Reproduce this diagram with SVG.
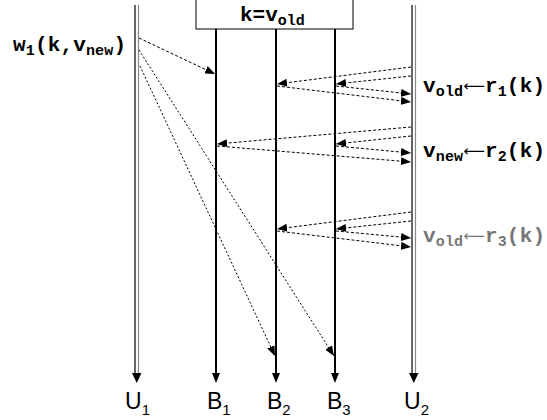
<svg xmlns="http://www.w3.org/2000/svg" width="547" height="420" viewBox="0 0 547 420">
<style>
.mono{font-family:"Liberation Mono","Courier New",monospace;font-weight:bold;font-size:21px;fill:#000}
.sub{font-size:15px}
.arr{font-family:"DejaVu Sans",sans-serif;font-weight:normal;font-size:15px}
.sans{font-family:"Liberation Sans",Arial,Helvetica,sans-serif;font-size:23px;fill:#000}
.sans .s{font-size:15px}
.life{stroke:#000;stroke-width:2;fill:none}
.u1{stroke:#000;stroke-width:1.2;fill:none}
.u2{stroke:#888;stroke-width:1.2;fill:none}
.msg{stroke:#000;stroke-width:1;stroke-dasharray:3 2;fill:none;marker-end:url(#ah)}
.msgf{stroke:#000;stroke-width:1;stroke-dasharray:2 2;fill:none;marker-end:url(#ah)}
.head{fill:#000}
</style>
<defs>
<marker id="ah" markerUnits="userSpaceOnUse" markerWidth="10" markerHeight="8" refX="10" refY="4" orient="auto">
<path d="M0,0 L10,4 L0,8 z" fill="#000"/>
</marker>
</defs>
<rect width="547" height="420" fill="#fff"/>

<g id="U1">
<line class="u1" x1="135" y1="5" x2="135" y2="375"/>
<line class="u2" x1="138.5" y1="5" x2="138.5" y2="375"/>
<path class="head" d="M132,373 L141.5,373 L136.8,383 z"/>
<text class="sans" x="125" y="409">U<tspan class="s" dy="6">1</tspan></text>
<text class="mono" x="13" y="51" textLength="113" lengthAdjust="spacing">w<tspan class="sub" dy="4">1</tspan><tspan dy="-4">(k,v</tspan><tspan class="sub" dy="4">new</tspan><tspan dy="-4">)</tspan></text>
</g>

<g id="store">
<rect x="196" y="-1" width="157" height="30" fill="#fff" stroke="#000" stroke-width="1"/>
<text class="mono" x="240" y="21">k=v<tspan class="sub" dy="4">old</tspan></text>
</g>

<g id="B1">
<line class="life" x1="216" y1="29" x2="216" y2="374"/>
<path class="head" d="M212,373 L220,373 L216,383 z"/>
<text class="sans" x="207" y="409">B<tspan class="s" dy="6">1</tspan></text>
</g>
<g id="B2">
<line class="life" x1="276" y1="29" x2="276" y2="374"/>
<path class="head" d="M272,373 L280,373 L276,383 z"/>
<text class="sans" x="267" y="409">B<tspan class="s" dy="6">2</tspan></text>
</g>
<g id="B3">
<line class="life" x1="335" y1="29" x2="335" y2="374"/>
<path class="head" d="M331,373 L339,373 L335,383 z"/>
<text class="sans" x="327" y="409">B<tspan class="s" dy="6">3</tspan></text>
</g>

<g id="U2">
<line class="u1" x1="412" y1="5" x2="412" y2="375"/>
<line class="u2" x1="415.5" y1="5" x2="415.5" y2="375"/>
<path class="head" d="M409,373 L418.5,373 L413.8,383 z"/>
<text class="sans" x="404" y="409">U<tspan class="s" dy="6">2</tspan></text>
<text class="mono" x="423" y="92" textLength="122" lengthAdjust="spacing">v<tspan class="sub" dy="4">old</tspan><tspan class="arr" dy="-5">⟵</tspan><tspan dy="1">r</tspan><tspan class="sub" dy="4">1</tspan><tspan dy="-4">(k)</tspan></text>
<text class="mono" x="423" y="157" textLength="122" lengthAdjust="spacing">v<tspan class="sub" dy="4">new</tspan><tspan class="arr" dy="-5">⟵</tspan><tspan dy="1">r</tspan><tspan class="sub" dy="4">2</tspan><tspan dy="-4">(k)</tspan></text>
<text class="mono" x="423" y="242" textLength="122" lengthAdjust="spacing" style="fill:#777">v<tspan class="sub" dy="4">old</tspan><tspan class="arr" dy="-5">⟵</tspan><tspan dy="1">r</tspan><tspan class="sub" dy="4">3</tspan><tspan dy="-4">(k)</tspan></text>
</g>

<g id="connectors">
<line class="msg" x1="139" y1="38" x2="215" y2="74"/>
<line class="msgf" x1="139" y1="50" x2="334" y2="356"/>
<line class="msgf" x1="140" y1="66" x2="275" y2="356"/>

<line class="msg" x1="411" y1="67" x2="277" y2="84"/>
<line class="msg" x1="411" y1="76" x2="336" y2="84"/>
<line class="msg" x1="336" y1="86" x2="411" y2="94"/>
<line class="msg" x1="277" y1="86" x2="411" y2="102"/>

<line class="msg" x1="411" y1="127" x2="217" y2="144"/>
<line class="msg" x1="411" y1="136" x2="336" y2="144"/>
<line class="msg" x1="336" y1="146" x2="411" y2="153"/>
<line class="msg" x1="217" y1="146" x2="411" y2="162"/>

<line class="msg" x1="411" y1="212" x2="277" y2="229"/>
<line class="msg" x1="411" y1="221" x2="336" y2="229"/>
<line class="msg" x1="336" y1="231" x2="411" y2="238"/>
<line class="msg" x1="277" y1="231" x2="411" y2="247"/>
</g>
</svg>
